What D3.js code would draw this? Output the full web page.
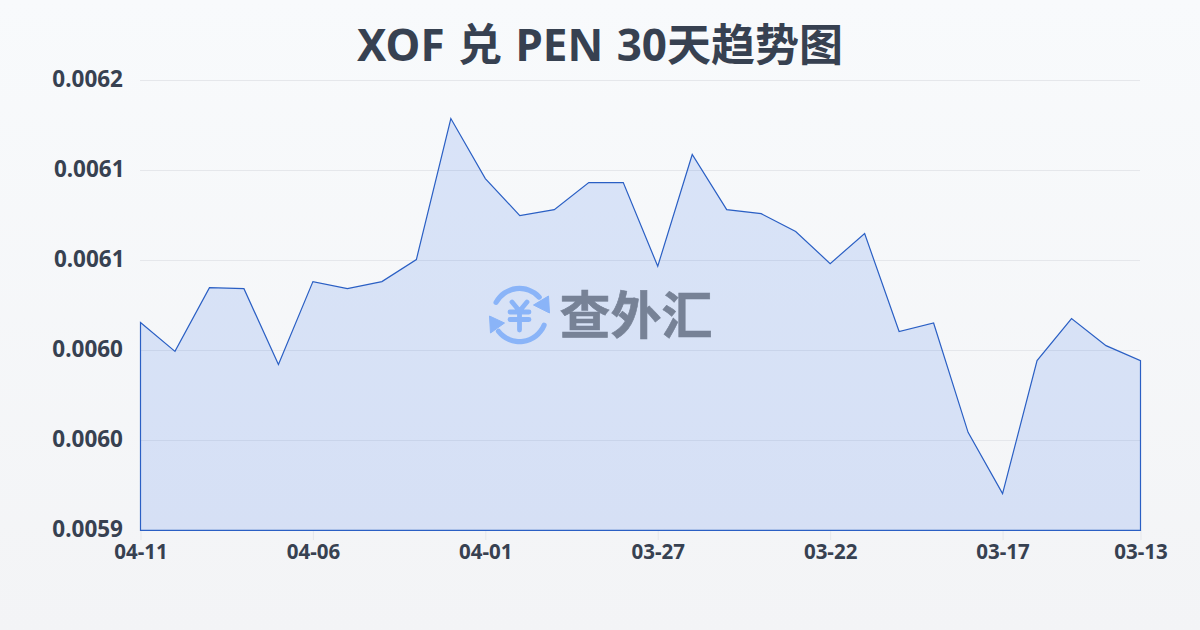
<!DOCTYPE html>
<html><head><meta charset="utf-8">
<script src="https://cdn.jsdelivr.net/npm/d3@7/dist/d3.min.js"></script>
<style>
html,body{margin:0;padding:0;width:1200px;height:630px;overflow:hidden}
svg{display:block}
text{font-family:"Noto Sans","Noto Sans CJK SC",sans-serif}
</style></head><body>
<svg id="c" width="1200" height="630"></svg>
<script>
const titleText = "XOF 兑 PEN 30天趋势图";
const watermarkText = "查外汇";
const dates = ["04-11","04-10","04-09","04-08","04-07","04-06","04-05","04-04","04-03","04-02","04-01","03-31","03-30","03-29","03-28","03-27","03-26","03-25","03-24","03-23","03-22","03-21","03-20","03-19","03-18","03-17","03-16","03-15","03-14","03-13"];
const rates = [0.0060385,0.0060193,0.0060618,0.0060611,0.0060105,0.0060658,0.0060611,0.0060658,0.0060805,0.0061745,0.0061345,0.0061098,0.0061138,0.0061318,0.0061318,0.0060760,0.0061505,0.0061138,0.0061111,0.0060992,0.0060778,0.0060978,0.0060325,0.0060382,0.0059653,0.0059245,0.0060131,0.0060411,0.0060231,0.0060131];
const xTickLabels = ["04-11","04-06","04-01","03-27","03-22","03-17","03-13"];
const yTicks = [0.0059,0.00596,0.00602,0.00608,0.00614,0.0062];

const svg = d3.select("#c");
const defs = svg.append("defs");
const bg = defs.append("linearGradient").attr("id","bg").attr("x1",0).attr("y1",0).attr("x2",0).attr("y2",1);
bg.append("stop").attr("offset",0).attr("stop-color","#f8fafc");
bg.append("stop").attr("offset",1).attr("stop-color","#f3f4f6");
svg.append("rect").attr("width",1200).attr("height",630).attr("fill","url(#bg)");

const x = d3.scalePoint().domain(dates).range([140.5,1140.5]);
const y = d3.scaleLinear().domain([0.0059,0.0062]).range([530.3,80.3]);

// grid + y axis
const fmt = d3.format(".4f");
const yAxis = d3.axisLeft(y).tickValues(yTicks).tickSize(0).tickPadding(17).tickFormat(fmt);
const gy = svg.append("g").attr("transform","translate(140,-1)").call(yAxis);
gy.select(".domain").remove();
gy.selectAll("text").attr("font-size",22.5).attr("font-weight",700).attr("fill","#374151")
  .attr("dx",d=>fmt(d).endsWith("1")?1.6:0);
svg.append("g").selectAll("line").data(yTicks.slice(1)).join("line")
  .attr("x1",140).attr("x2",1140)
  .attr("y1",d=>Math.round(y(d))+.5).attr("y2",d=>Math.round(y(d))+.5)
  .attr("stroke","#e5e7eb").attr("stroke-width",1);

// x axis
const xAxis = d3.axisBottom(x).tickValues(xTickLabels).tickSize(10).tickPadding(4);
const gx = svg.append("g").attr("transform","translate(0,530)").call(xAxis);
gx.select(".domain").remove();
gx.selectAll("line").attr("stroke","#e5e7eb");
gx.selectAll("text").attr("font-size",20.5).attr("font-weight",700).attr("fill","#374151");

// area
const area = d3.area().x((d,i)=>x(dates[i])).y0(y(0.0059)).y1(d=>y(d));
svg.append("path").datum(rates).attr("d",area(rates)+"Z")
  .attr("fill","#2563eb").attr("fill-opacity",0.14)
  .attr("stroke","#2a5fc4").attr("stroke-width",1.2).attr("stroke-linejoin","miter");

// title
svg.append("text").attr("x",600).attr("y",61).attr("text-anchor","middle")
  .attr("font-size",44).attr("font-weight",700).attr("fill","#374151")
  .attr("word-spacing",2).text(titleText);

// watermark
const wm = svg.append("g");
const logo = wm.append("g").attr("transform","translate(519.5,315)").attr("fill","none").attr("stroke","#8ab4f8");
const arc = d3.arc().innerRadius(24).outerRadius(29.2).cornerRadius(2.5);
logo.append("path").attr("d",arc({startAngle:-1.17,endAngle:0.93})).attr("fill","#8ab4f8").attr("stroke","none");
logo.append("path").attr("d",arc({startAngle:1.87,endAngle:4.15})).attr("fill","#8ab4f8").attr("stroke","none");
logo.append("path").attr("d","M29 -19 L30 -2 L14 -10 Z").attr("fill","#8ab4f8").attr("stroke","#8ab4f8").attr("stroke-width",1);
logo.append("path").attr("d","M-30 1 L-29 18 L-15 8 Z").attr("fill","#8ab4f8").attr("stroke","#8ab4f8").attr("stroke-width",1);
logo.append("path").attr("stroke-width",4.8).attr("stroke-linecap","round")
  .attr("d","M-7.5 -13 L0 -4 L7.5 -13 M-9.5 -3 H9.5 M-9.5 4.5 H9.5 M0 -4 V15");
wm.append("text").attr("x",636).attr("y",334).attr("text-anchor","middle")
  .attr("font-size",51).attr("font-weight",700).attr("fill","#778296")
  .attr("stroke","#778296").attr("stroke-width",.6)
  .style("font-family",'"Noto Sans CJK SC"').text(watermarkText);
</script>
</body></html>
